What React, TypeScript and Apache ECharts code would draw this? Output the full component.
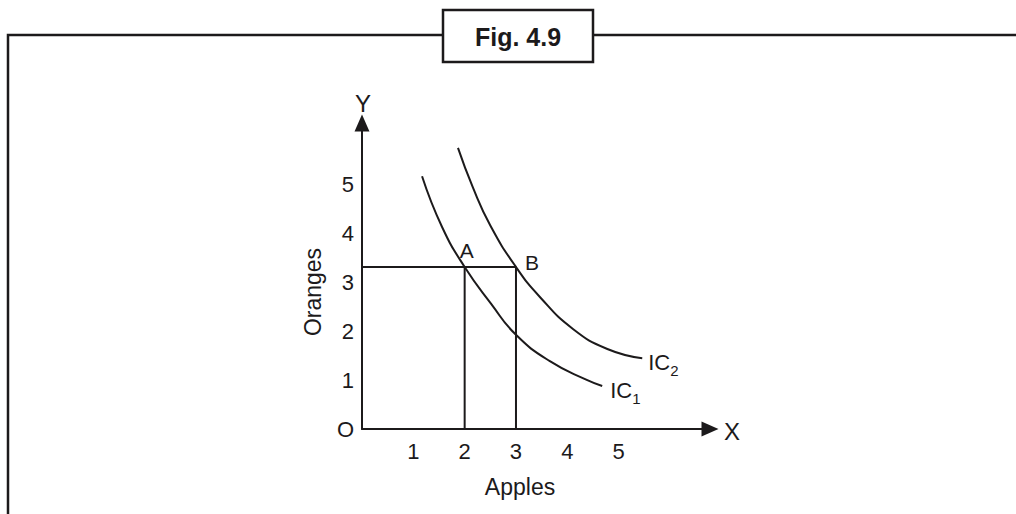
import React, { useEffect, useRef } from "react";
import * as echarts from "echarts";

const FONT = "'Liberation Sans', Arial, Helvetica, sans-serif";
const INK = "#1c1a1b";

const title = "Fig. 4.9";
const xAxisName = "Apples";
const yAxisName = "Oranges";
const xTickValues = [1, 2, 3, 4, 5];
const yTickValues = [1, 2, 3, 4, 5];

// Indifference curves (Apples, Oranges)
const ic1 = [
  [1.17, 5.18],
  [1.56, 4.14],
  [2.0, 3.32],
  [2.52, 2.56],
  [3.0, 1.93],
  [3.66, 1.39],
  [4.39, 1.0],
  [4.68, 0.88],
];
const ic2 = [
  [1.87, 5.76],
  [2.16, 4.95],
  [2.5, 4.17],
  [3.0, 3.32],
  [3.47, 2.7],
  [4.11, 2.05],
  [4.78, 1.64],
  [5.46, 1.45],
];
const pointA = [2, 3.32];
const pointB = [3, 3.32];

export default function App() {
  const ref = useRef<HTMLDivElement>(null);

  useEffect(() => {
    if (!ref.current) return;
    const chart = echarts.init(ref.current, null, { renderer: "svg" });

    const lineCommon = {
      type: "line",
      symbol: "none",
      silent: true,
      lineStyle: { color: INK, width: 2 },
    };

    const icRich = {
      a: { fontSize: 22, lineHeight: 22, color: INK, fontFamily: FONT, verticalAlign: "top" },
      b: { fontSize: 15, lineHeight: 15, color: INK, fontFamily: FONT, verticalAlign: "top", padding: [12, 0, 0, 0] },
    };

    const option: any = {
      animation: false,
      backgroundColor: "#ffffff",
      grid: { left: 362, right: 306, top: 123, bottom: 85, containLabel: false },
      xAxis: {
        type: "value",
        min: 0,
        max: 6.78,
        interval: 1,
        axisLine: {
          show: true,
          lineStyle: { color: INK, width: 2 },
          symbol: ["none", "triangle"],
          symbolSize: [15, 17],
        },
        axisTick: { show: false },
        splitLine: { show: false },
        axisLabel: {
          fontSize: 22,
          color: INK,
          fontFamily: FONT,
          margin: 11,
          formatter: (v: number) => (xTickValues.includes(v) ? String(v) : ""),
        },
        name: xAxisName,
        nameLocation: "middle",
        nameGap: 46,
        nameTextStyle: { fontSize: 23, color: INK, fontFamily: FONT, padding: [0, 32, 0, 0] },
      },
      yAxis: {
        type: "value",
        min: 0,
        max: 6.27,
        interval: 1,
        axisLine: {
          show: true,
          lineStyle: { color: INK, width: 2 },
          symbol: ["none", "triangle"],
          symbolSize: [15, 17],
        },
        axisTick: { show: false },
        splitLine: { show: false },
        axisLabel: {
          fontSize: 22,
          color: INK,
          fontFamily: FONT,
          margin: 8,
          formatter: (v: number) => (v === 0 ? "O" : yTickValues.includes(v) ? String(v) : ""),
        },
        name: yAxisName,
        nameLocation: "middle",
        nameGap: 38,
        nameRotate: 90,
        nameTextStyle: { fontSize: 23, color: INK, fontFamily: FONT, padding: [0, 32, 0, 0] },
      },
      series: [
        {
          ...lineCommon,
          name: "IC1",
          smooth: 0.5,
          data: ic1,
          endLabel: {
            show: true,
            formatter: "{a|IC}{b|1}",
            distance: 8,
            offset: [0, 4],
            rich: icRich,
          },
        },
        {
          ...lineCommon,
          name: "IC2",
          smooth: 0.5,
          data: ic2,
          endLabel: {
            show: true,
            formatter: "{a|IC}{b|2}",
            distance: 6,
            offset: [0, 4],
            rich: icRich,
          },
        },
        {
          ...lineCommon,
          name: "guideAB",
          data: [[0, pointA[1]], pointB, [pointB[0], 0]],
        },
        {
          ...lineCommon,
          name: "guideA",
          data: [pointA, [pointA[0], 0]],
        },
        {
          type: "scatter",
          silent: true,
          symbolSize: 0,
          itemStyle: { opacity: 1, color: INK },
          data: [
            {
              value: pointA,
              label: {
                show: true,
                formatter: "A",
                position: "top",
                distance: 6,
                offset: [2, 0],
                fontSize: 21,
                color: INK,
                opacity: 1,
                fontFamily: FONT,
              },
            },
            {
              value: pointB,
              label: {
                show: true,
                formatter: "B",
                position: "right",
                distance: 9,
                offset: [0, -4],
                fontSize: 21,
                color: INK,
                opacity: 1,
                fontFamily: FONT,
              },
            },
          ],
        },
      ],
      graphic: [
        {
          type: "polyline",
          shape: { points: [[8, 514], [8, 35], [443, 35]] },
          style: { stroke: INK, lineWidth: 2.5, fill: "none" },
          silent: true,
        },
        {
          type: "line",
          shape: { x1: 593, y1: 35, x2: 1016, y2: 35 },
          style: { stroke: INK, lineWidth: 2.5 },
          silent: true,
        },
        {
          type: "rect",
          shape: { x: 443, y: 10, width: 150, height: 52 },
          style: { stroke: INK, lineWidth: 2.5, fill: "#ffffff" },
          silent: true,
        },
        {
          type: "text",
          x: 518,
          y: 37,
          style: {
            text: title,
            fontSize: 25,
            fontWeight: "bold",
            fontFamily: FONT,
            fill: INK,
            align: "center",
            verticalAlign: "middle",
          },
          silent: true,
        },
        {
          type: "text",
          x: 732,
          y: 431,
          style: { text: "X", fontSize: 24, fontFamily: FONT, fill: INK, align: "center", verticalAlign: "middle" },
          silent: true,
        },
        {
          type: "text",
          x: 363,
          y: 103,
          style: { text: "Y", fontSize: 24, fontFamily: FONT, fill: INK, align: "center", verticalAlign: "middle" },
          silent: true,
        },
      ],
    };

    chart.setOption(option);
    return () => chart.dispose();
  }, []);

  return (
    <div
      ref={ref}
      style={{ position: "fixed", left: 0, top: 0, width: 1016, height: 514, background: "#fff" }}
    />
  );
}
